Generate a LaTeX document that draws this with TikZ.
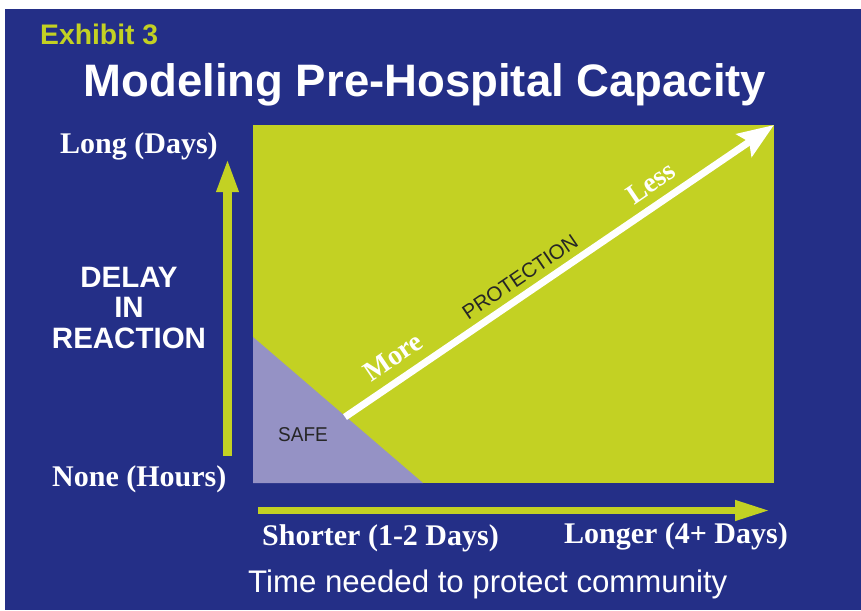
\documentclass[tikz,border=0pt]{standalone}
\usepackage{fontspec}
\setmainfont{Liberation Serif}
\setsansfont{Liberation Sans}
\usetikzlibrary{arrows.meta}
\definecolor{bgblue}{RGB}{36,47,135}
\definecolor{lime}{RGB}{195,209,35}
\definecolor{lav}{RGB}{149,146,197}
\tikzset{
  serlabel/.style={text=white,font=\rmfamily\bfseries\fontsize{30}{32}\selectfont,inner sep=0pt},
  sanslabel/.style={text=white,font=\sffamily\bfseries\fontsize{29.5}{31}\selectfont,inner sep=0pt},
  rotlabel/.style={rotate=34.2,inner sep=0pt},
}
\begin{document}
\begin{tikzpicture}[x=1pt,y=-1pt]
\useasboundingbox (0,0) rectangle (861,610);
\fill[white] (0,0) rectangle (861,610);
\fill[bgblue] (5,9) rectangle (861,610);
% plot area
\fill[lime] (253,125) rectangle (774,483);
\fill[lav] (253,337) -- (253,483) -- (423,483) -- cycle;
% coordinates
\coordinate (wa) at (345,417);
\coordinate (wb) at (774,125);
\coordinate (va) at (227.5,456);
\coordinate (vb) at (227.5,158);
\coordinate (ha) at (258,510.5);
\coordinate (hb) at (770,510.5);
% white diagonal arrow
\draw[white,line width=7pt,-{Stealth[length=36pt,width=27pt,inset=6pt]}] (wa) -- (wb);
% axes arrows
\draw[lime,line width=9pt,-{Triangle[length=34pt,width=20pt]}] (va) -- (vb);
\draw[lime,line width=7pt,-{Triangle[length=35pt,width=19pt]}] (ha) -- (hb);
% titles
\node[anchor=base west,text=lime,font=\sffamily\bfseries\fontsize{28.3}{30}\selectfont,inner sep=0pt] (exh) at (40,45) {Exhibit 3};
\node[anchor=base,text=white,font=\sffamily\bfseries\fontsize{45.5}{48}\selectfont,inner sep=0pt] (title) at (425,96) {Modeling Pre-Hospital Capacity};
% axis labels
\node[serlabel,anchor=base west] (long) at (60,153) {Long (Days)};
\node[serlabel,anchor=base west] (none) at (52,486) {None (Hours)};
\node[serlabel,anchor=base west] (short) at (262,545) {Shorter (1-2 Days)};
\node[serlabel,anchor=base east] (longer) at (788,543) {Longer (4+ Days)};
\node[sanslabel,anchor=base] (delay) at (129,287) {DELAY};
\node[sanslabel,anchor=base] (in) at (129,317.5) {IN};
\node[sanslabel,anchor=base] (react) at (129,348) {REACTION};
\node[anchor=base west,text=white,font=\sffamily\fontsize{31.2}{33}\selectfont,inner sep=0pt] (time) at (248,592) {Time needed to protect community};
% inner labels
\node[anchor=base west,text=black!85,font=\sffamily\fontsize{20}{22}\selectfont,inner sep=0pt,xscale=0.95] (safe) at (278,441) {SAFE};
\node[rotlabel,text=black!85,font=\sffamily\fontsize{20.5}{22}\selectfont] (prot) at (520,277) {PROTECTION};
\node[rotlabel,text=white,font=\rmfamily\bfseries\fontsize{28}{30}\selectfont] (more) at (393,357) {More};
\node[rotlabel,text=white,font=\rmfamily\bfseries\fontsize{28}{30}\selectfont] (less) at (651,183) {Less};
\end{tikzpicture}
\end{document}
